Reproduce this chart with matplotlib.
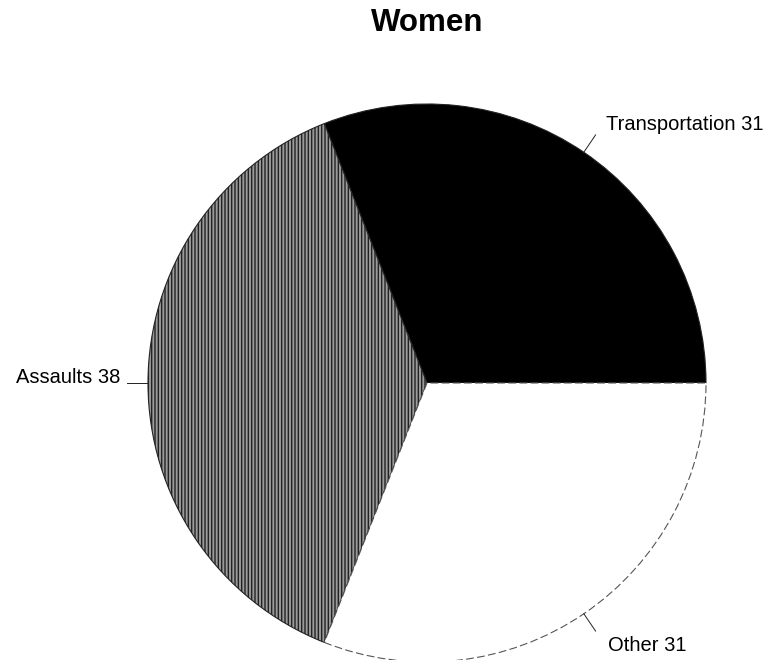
import numpy as np
import matplotlib.pyplot as plt

plt.rcParams['font.family'] = ['Liberation Sans', 'DejaVu Sans']
plt.rcParams['hatch.linewidth'] = 1.0
plt.rcParams['hatch.color'] = '#262626'

# categories and counts
labels = ['Transportation', 'Assaults', 'Other']
values = [31, 38, 31]

fig = plt.figure(figsize=(7.73, 6.6), dpi=100)
fig.patch.set_facecolor('white')

# square axes box (pixels) centred on the pie
cx, cy, r = 427, 383, 279
W, H = 773, 660
ax = fig.add_axes([(cx - r) / W, (H - cy - r) / H, 2 * r / W, 2 * r / H])

wedges, _ = ax.pie(values, startangle=0, counterclock=True, radius=1,
                   colors=['black', '#9a9a9a', 'white'],
                   wedgeprops=dict(linewidth=0.8, edgecolor='#222222'))
wedges[1].set_hatch('|||||')
wedges[2].set_edgecolor('#555555')
wedges[2].set_linestyle((0, (7, 3)))
ax.set_xlim(-1, 1)
ax.set_ylim(-1, 1)
ax.set_aspect('auto')
ax.axis('off')

# leader lines and labels
text_pos = [(0.64, 0.925, 'left'), (-1.1, 0.02, 'right'), (0.647, -0.942, 'left')]
for w, lab, v, (tx, ty, ha) in zip(wedges, labels, values, text_pos):
    ang = np.deg2rad((w.theta1 + w.theta2) / 2)
    x0, y0 = np.cos(ang), np.sin(ang)
    x1, y1 = 1.075 * x0, 1.075 * y0
    ax.plot([x0, x1], [y0, y1], color='#222222', lw=0.7, clip_on=False)
    ax.text(tx, ty, f'{lab} {v}', ha=ha, va='center', fontsize=14.5,
            clip_on=False)

fig.text(427 / W, 1 - 23 / H, 'Women', ha='center', va='center',
         fontsize=22.5, fontweight='bold')

fig.savefig('out.png', dpi=100)
